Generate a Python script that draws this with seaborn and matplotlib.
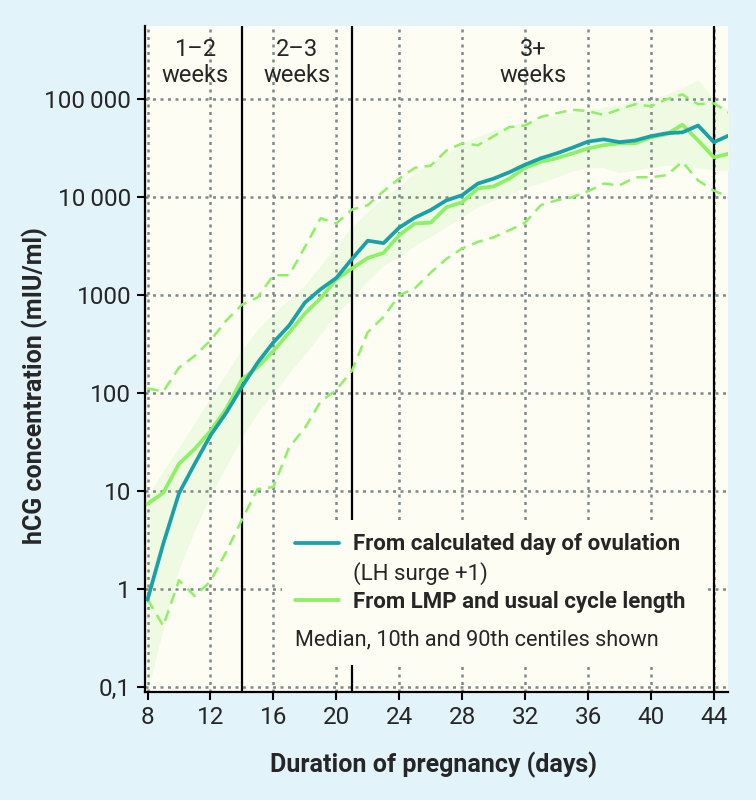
import numpy as np
import pandas as pd
import matplotlib
matplotlib.use("Agg")
import matplotlib.pyplot as plt
from matplotlib.lines import Line2D
from matplotlib.patches import Rectangle
import seaborn as sns

# hCG values by day of pregnancy
days = list(range(8, 46))
ovulation_median = [0.78, 2.9, 9.5, 19, 37, 63, 116, 205, 330, 490, 840, 1150, 1500, 2350,
                    3600, 3400, 4900, 6200, 7400, 9300, 10500, 13800, 15500, 18000, 21500,
                    25000, 28000, 32000, 37000, 39000, 36500, 38000, 42000, 45000, 46000,
                    54000, 36500, 43000]
lmp_median = [7.4, 9.6, 19, 27, 41, 69, 138, 185, 270, 415, 650, 930, 1450, 1880, 2400,
              2700, 4100, 5400, 5500, 7900, 8900, 12300, 12900, 15500, 20000, 23000, 25000,
              28000, 31500, 34000, 35500, 35500, 41000, 44000, 55000, 38000, 25500, 28000]
lmp_p90 = [112, 104, 182, 240, 345, 550, 800, 950, 1600, 1600, 3100, 6100, 5400, 7500, 8300,
           11500, 15500, 20000, 21000, 30000, 35500, 34000, 42000, 52000, 54000, 66000,
           72000, 78000, 76000, 69000, 79000, 89000, 85000, 100000, 112000, 89000, 91000, 72000]
lmp_p10 = [0.79, 0.42, 1.23, 0.85, 1.2, 2.4, 5.1, 10.5, 11, 28, 44, 82, 108, 170, 420, 600,
           1000, 1180, 1700, 2350, 3000, 3500, 3900, 4600, 5500, 8300, 9300, 10000, 11500,
           13800, 13200, 16000, 16000, 16800, 23000, 14800, 11700, 10000]
band_upper = [9, 16, 28, 50, 90, 160, 280, 450, 660, 900, 1260, 2000, 3200, 5000, 7100,
              10000, 13000, 18000, 22000, 28000, 35000, 42000, 48000, 54000, 59000, 63000,
              68000, 74000, 79000, 83000, 89000, 95000, 100000, 112000, 132000, 158000,
              100000, 76000]
band_lower = [0.09, 0.4, 1.6, 4, 9, 18, 35, 63, 100, 160, 250, 400, 630, 950, 1400, 2000,
              2500, 3200, 4000, 5000, 6300, 8000, 9300, 10700, 12600, 14000, 16000, 18600,
              20000, 20000, 17800, 19000, 20000, 21400, 20000, 20000, 19000, 18600]

week_splits = [14, 21, 44]
week_labels = ["1\u20132\nweeks", "2\u20133\nweeks", "3+\nweeks"]
week_centres = [11, 17.5, 32.5]

ytick_vals = [0.1, 1, 10, 100, 1000, 10000, 100000]
ytick_text = ["0,1", "1", "10", "100", "1000", "10\u2009000", "100\u2009000"]
xtick_vals = list(range(8, 45, 4))

df = pd.DataFrame({"day": days, "ovu": ovulation_median, "lmp": lmp_median,
                   "p90": lmp_p90, "p10": lmp_p10, "hi": band_upper, "lo": band_lower})

teal = "#1aa0a9"
green = "#8ef064"
fig_bg = "#e3f3fa"
ax_bg = "#fdfdf4"

sns.set_style("white")
plt.rcParams["font.family"] = ["Roboto", "DejaVu Sans"]

fig = plt.figure(figsize=(7.56, 8.0), dpi=100, facecolor=fig_bg)
ax = fig.add_axes([0.1918, 0.135, 0.7712, 0.8325])
ax.set_facecolor(ax_bg)

ax.fill_between(df["day"], df["lo"], df["hi"], color="#eefbe2", lw=0, zorder=0.3)

sns.lineplot(data=df, x="day", y="p90", ax=ax, color=green, lw=1.8, dashes=(4.5, 2.8), zorder=3)
sns.lineplot(data=df, x="day", y="p10", ax=ax, color=green, lw=1.8, dashes=(4.5, 2.8), zorder=3)
sns.lineplot(data=df, x="day", y="lmp", ax=ax, color=green, lw=2.7, zorder=3.2)
sns.lineplot(data=df, x="day", y="ovu", ax=ax, color=teal, lw=2.7, zorder=3.4)

for d in week_splits:
    ax.axvline(d, color="black", lw=1.6, zorder=2)
for c, t in zip(week_centres, week_labels):
    ax.text(c, 0.945, t, transform=ax.get_xaxis_transform(), ha="center", va="center",
            fontsize=17, linespacing=1.2)

ax.set_yscale("log")
ax.set_ylim(0.089, 5.6e5)
ax.set_xlim(7.84, 44.9)
ax.set_yticks(ytick_vals)
ax.set_yticklabels(ytick_text)
ax.yaxis.set_minor_locator(matplotlib.ticker.NullLocator())
ax.set_xticks(xtick_vals)
ax.tick_params(axis="both", direction="out", length=6, width=1.5, labelsize=17.5,
               color="black", left=True, bottom=True, pad=4)

ax.set_axisbelow(True)
ax.grid(True, which="major", color="#7d8a8c", lw=1.8, ls=(0, (1.2, 1.8)))

for side in ["top", "right"]:
    ax.spines[side].set_visible(False)
for side in ["left", "bottom"]:
    ax.spines[side].set_color("black")
    ax.spines[side].set_linewidth(1.6)

ax.set_xlabel("Duration of pregnancy (days)", fontsize=18, fontweight="bold")
ax.set_ylabel("hCG concentration (mIU/ml)", fontsize=18, fontweight="bold")
ax.xaxis.set_label_coords(0.494, -0.09)
ax.yaxis.set_label_coords(-0.166, 0.46)

# legend area covers grid lines
ax.add_patch(Rectangle((0.235, 0.0405), 0.731, 0.218, transform=ax.transAxes,
                       facecolor=ax_bg, edgecolor="none", zorder=2.5))
handles = [Line2D([], [], color=teal, lw=2.7), Line2D([], [], color="none"),
           Line2D([], [], color=green, lw=2.7)]
labels = ["From calculated day of ovulation", "(LH surge +1)", "From LMP and usual cycle length"]
leg = ax.legend(handles, labels, loc="upper left", bbox_to_anchor=(0.257, 0.238),
                frameon=False, borderpad=0, borderaxespad=0, handlelength=2.0,
                handletextpad=0.6, labelspacing=0.28, fontsize=16)
leg.set_zorder(4)
leg.get_texts()[0].set_fontweight("bold")
leg.get_texts()[2].set_fontweight("bold")
ax.text(0.257, 0.078, "Median, 10th and 90th centiles shown", transform=ax.transAxes,
        fontsize=15.6, va="center", ha="left", zorder=4)

fig.savefig("out.png", dpi=100, facecolor=fig_bg)
